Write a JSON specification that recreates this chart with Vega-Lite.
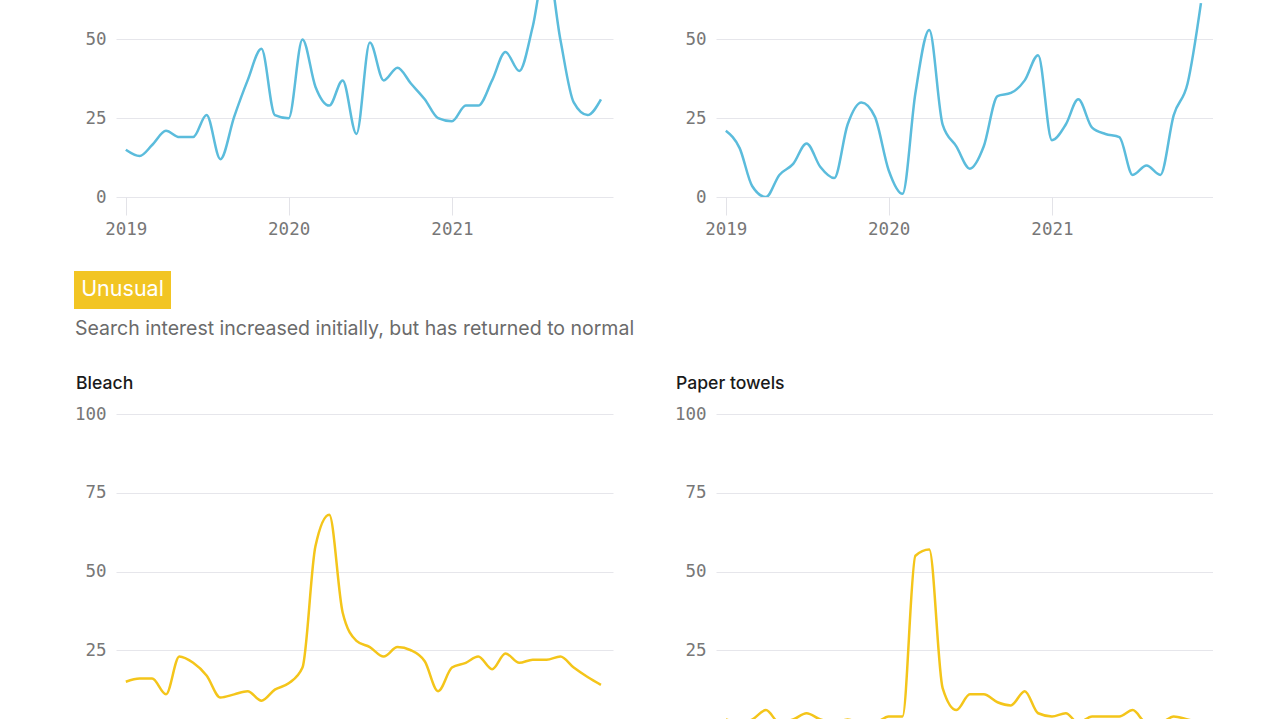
{
  "$schema": "https://vega.github.io/schema/vega-lite/v6.json",
  "background": "white",
  "autosize": {"type": "pad"},
  "padding": {"left": 10, "top": 0, "right": 0, "bottom": 0},
  "datasets": {
    "trends": [
      {"term": "Series A", "date": "2019-01-01", "value": 15},
      {"term": "Series A", "date": "2019-02-01", "value": 13},
      {"term": "Series A", "date": "2019-03-01", "value": 16.5},
      {"term": "Series A", "date": "2019-04-01", "value": 21},
      {"term": "Series A", "date": "2019-05-01", "value": 19},
      {"term": "Series A", "date": "2019-06-01", "value": 19},
      {"term": "Series A", "date": "2019-07-01", "value": 26},
      {"term": "Series A", "date": "2019-08-01", "value": 12},
      {"term": "Series A", "date": "2019-09-01", "value": 25.5},
      {"term": "Series A", "date": "2019-10-01", "value": 37},
      {"term": "Series A", "date": "2019-11-01", "value": 47},
      {"term": "Series A", "date": "2019-12-01", "value": 26},
      {"term": "Series A", "date": "2020-01-01", "value": 25},
      {"term": "Series A", "date": "2020-02-01", "value": 50},
      {"term": "Series A", "date": "2020-03-01", "value": 35},
      {"term": "Series A", "date": "2020-04-01", "value": 29},
      {"term": "Series A", "date": "2020-05-01", "value": 37},
      {"term": "Series A", "date": "2020-06-01", "value": 20},
      {"term": "Series A", "date": "2020-07-01", "value": 49},
      {"term": "Series A", "date": "2020-08-01", "value": 37},
      {"term": "Series A", "date": "2020-09-01", "value": 41},
      {"term": "Series A", "date": "2020-10-01", "value": 36},
      {"term": "Series A", "date": "2020-11-01", "value": 31},
      {"term": "Series A", "date": "2020-12-01", "value": 25},
      {"term": "Series A", "date": "2021-01-01", "value": 24},
      {"term": "Series A", "date": "2021-02-01", "value": 29},
      {"term": "Series A", "date": "2021-03-01", "value": 29},
      {"term": "Series A", "date": "2021-04-01", "value": 37},
      {"term": "Series A", "date": "2021-05-01", "value": 46},
      {"term": "Series A", "date": "2021-06-01", "value": 40},
      {"term": "Series A", "date": "2021-07-01", "value": 54},
      {"term": "Series A", "date": "2021-08-01", "value": 75},
      {"term": "Series A", "date": "2021-09-01", "value": 50},
      {"term": "Series A", "date": "2021-10-01", "value": 30},
      {"term": "Series A", "date": "2021-11-01", "value": 26},
      {"term": "Series A", "date": "2021-12-01", "value": 31},
      {"term": "Series B", "date": "2019-01-01", "value": 21},
      {"term": "Series B", "date": "2019-02-01", "value": 15.5},
      {"term": "Series B", "date": "2019-03-01", "value": 3.5},
      {"term": "Series B", "date": "2019-04-01", "value": 0},
      {"term": "Series B", "date": "2019-05-01", "value": 7},
      {"term": "Series B", "date": "2019-06-01", "value": 10.5},
      {"term": "Series B", "date": "2019-07-01", "value": 17},
      {"term": "Series B", "date": "2019-08-01", "value": 9.5},
      {"term": "Series B", "date": "2019-09-01", "value": 6},
      {"term": "Series B", "date": "2019-10-01", "value": 23},
      {"term": "Series B", "date": "2019-11-01", "value": 30},
      {"term": "Series B", "date": "2019-12-01", "value": 25.5},
      {"term": "Series B", "date": "2020-01-01", "value": 8.5},
      {"term": "Series B", "date": "2020-02-01", "value": 1},
      {"term": "Series B", "date": "2020-03-01", "value": 33},
      {"term": "Series B", "date": "2020-04-01", "value": 53},
      {"term": "Series B", "date": "2020-05-01", "value": 23},
      {"term": "Series B", "date": "2020-06-01", "value": 16},
      {"term": "Series B", "date": "2020-07-01", "value": 9},
      {"term": "Series B", "date": "2020-08-01", "value": 16},
      {"term": "Series B", "date": "2020-09-01", "value": 32},
      {"term": "Series B", "date": "2020-10-01", "value": 33},
      {"term": "Series B", "date": "2020-11-01", "value": 37},
      {"term": "Series B", "date": "2020-12-01", "value": 45},
      {"term": "Series B", "date": "2021-01-01", "value": 18},
      {"term": "Series B", "date": "2021-02-01", "value": 23},
      {"term": "Series B", "date": "2021-03-01", "value": 31},
      {"term": "Series B", "date": "2021-04-01", "value": 22},
      {"term": "Series B", "date": "2021-05-01", "value": 20},
      {"term": "Series B", "date": "2021-06-01", "value": 19},
      {"term": "Series B", "date": "2021-07-01", "value": 7},
      {"term": "Series B", "date": "2021-08-01", "value": 10},
      {"term": "Series B", "date": "2021-09-01", "value": 7},
      {"term": "Series B", "date": "2021-10-01", "value": 26},
      {"term": "Series B", "date": "2021-11-01", "value": 36},
      {"term": "Series B", "date": "2021-12-01", "value": 61.5},
      {"term": "Bleach", "date": "2019-01-01", "value": 15},
      {"term": "Bleach", "date": "2019-02-01", "value": 16},
      {"term": "Bleach", "date": "2019-03-01", "value": 16},
      {"term": "Bleach", "date": "2019-04-01", "value": 11},
      {"term": "Bleach", "date": "2019-05-01", "value": 23},
      {"term": "Bleach", "date": "2019-06-01", "value": 21},
      {"term": "Bleach", "date": "2019-07-01", "value": 17},
      {"term": "Bleach", "date": "2019-08-01", "value": 10},
      {"term": "Bleach", "date": "2019-09-01", "value": 11},
      {"term": "Bleach", "date": "2019-10-01", "value": 12},
      {"term": "Bleach", "date": "2019-11-01", "value": 9},
      {"term": "Bleach", "date": "2019-12-01", "value": 12.5},
      {"term": "Bleach", "date": "2020-01-01", "value": 14.5},
      {"term": "Bleach", "date": "2020-02-01", "value": 19.5},
      {"term": "Bleach", "date": "2020-03-01", "value": 58},
      {"term": "Bleach", "date": "2020-04-01", "value": 68},
      {"term": "Bleach", "date": "2020-05-01", "value": 37},
      {"term": "Bleach", "date": "2020-06-01", "value": 28},
      {"term": "Bleach", "date": "2020-07-01", "value": 26},
      {"term": "Bleach", "date": "2020-08-01", "value": 23},
      {"term": "Bleach", "date": "2020-09-01", "value": 26},
      {"term": "Bleach", "date": "2020-10-01", "value": 25},
      {"term": "Bleach", "date": "2020-11-01", "value": 21.5},
      {"term": "Bleach", "date": "2020-12-01", "value": 12},
      {"term": "Bleach", "date": "2021-01-01", "value": 19.5},
      {"term": "Bleach", "date": "2021-02-01", "value": 21},
      {"term": "Bleach", "date": "2021-03-01", "value": 23},
      {"term": "Bleach", "date": "2021-04-01", "value": 19},
      {"term": "Bleach", "date": "2021-05-01", "value": 24},
      {"term": "Bleach", "date": "2021-06-01", "value": 21},
      {"term": "Bleach", "date": "2021-07-01", "value": 22},
      {"term": "Bleach", "date": "2021-08-01", "value": 22},
      {"term": "Bleach", "date": "2021-09-01", "value": 23},
      {"term": "Bleach", "date": "2021-10-01", "value": 19.5},
      {"term": "Bleach", "date": "2021-11-01", "value": 16.5},
      {"term": "Bleach", "date": "2021-12-01", "value": 14},
      {"term": "Paper towels", "date": "2019-01-01", "value": 3},
      {"term": "Paper towels", "date": "2019-02-01", "value": 2},
      {"term": "Paper towels", "date": "2019-03-01", "value": 3},
      {"term": "Paper towels", "date": "2019-04-01", "value": 6},
      {"term": "Paper towels", "date": "2019-05-01", "value": 2},
      {"term": "Paper towels", "date": "2019-06-01", "value": 3},
      {"term": "Paper towels", "date": "2019-07-01", "value": 5},
      {"term": "Paper towels", "date": "2019-08-01", "value": 3},
      {"term": "Paper towels", "date": "2019-09-01", "value": 2},
      {"term": "Paper towels", "date": "2019-10-01", "value": 3},
      {"term": "Paper towels", "date": "2019-11-01", "value": 2},
      {"term": "Paper towels", "date": "2019-12-01", "value": 2},
      {"term": "Paper towels", "date": "2020-01-01", "value": 4},
      {"term": "Paper towels", "date": "2020-02-01", "value": 4},
      {"term": "Paper towels", "date": "2020-03-01", "value": 55},
      {"term": "Paper towels", "date": "2020-04-01", "value": 57},
      {"term": "Paper towels", "date": "2020-05-01", "value": 13},
      {"term": "Paper towels", "date": "2020-06-01", "value": 6},
      {"term": "Paper towels", "date": "2020-07-01", "value": 11},
      {"term": "Paper towels", "date": "2020-08-01", "value": 11},
      {"term": "Paper towels", "date": "2020-09-01", "value": 8.5},
      {"term": "Paper towels", "date": "2020-10-01", "value": 7.5},
      {"term": "Paper towels", "date": "2020-11-01", "value": 12},
      {"term": "Paper towels", "date": "2020-12-01", "value": 5},
      {"term": "Paper towels", "date": "2021-01-01", "value": 4},
      {"term": "Paper towels", "date": "2021-02-01", "value": 5},
      {"term": "Paper towels", "date": "2021-03-01", "value": 2},
      {"term": "Paper towels", "date": "2021-04-01", "value": 4},
      {"term": "Paper towels", "date": "2021-05-01", "value": 4},
      {"term": "Paper towels", "date": "2021-06-01", "value": 4},
      {"term": "Paper towels", "date": "2021-07-01", "value": 6},
      {"term": "Paper towels", "date": "2021-08-01", "value": 2},
      {"term": "Paper towels", "date": "2021-09-01", "value": 2},
      {"term": "Paper towels", "date": "2021-10-01", "value": 4},
      {"term": "Paper towels", "date": "2021-11-01", "value": 3},
      {"term": "Paper towels", "date": "2021-12-01", "value": 2}
    ]
  },
  "config": {
    "view": {"stroke": null},
    "font": "Inter",
    "axisY": {
      "domain": false, "ticks": false, "labelPadding": 10,
      "labelFont": "DejaVu Sans Mono", "labelFontSize": 17.5, "labelColor": "#777777",
      "gridColor": "#e6e6eb", "gridWidth": 1, "title": null, "minExtent": 42
    },
    "axisX": {
      "domain": false, "grid": false, "ticks": true, "tickSize": 18, "tickColor": "#e3e3e8",
      "labelFont": "DejaVu Sans Mono", "labelFontSize": 17.5, "labelColor": "#777777",
      "labelPadding": 5, "title": null
    },
    "title": {
      "font": "Inter", "fontSize": 17.6, "fontWeight": 500, "color": "#1a1a1a",
      "anchor": "start", "frame": "bounds", "offset": 12, "dx": 2
    }
  },
  "spacing": 33,
  "vconcat": [
    {
      "spacing": 63,
      "hconcat": [
        {"width": 1, "height": 1, "data": {"values": []}, "mark": "point"},
        {
          "spacing": 61,
          "hconcat": [
            {
              "width": 497, "height": 197,
              "data": {"name": "trends"},
              "transform": [{"filter": "datum.term === 'Series A'"}],
              "mark": {"type": "line", "interpolate": "monotone", "strokeWidth": 2.5, "color": "#5bbcdc", "clip": true},
              "encoding": {
                "x": {"field": "date", "type": "temporal",
                  "scale": {"type": "utc", "nice": false, "domain": [{"year": 2018, "month": 12, "date": 10, "utc": true}, {"year": 2021, "month": 12, "date": 28, "utc": true}]},
                  "axis": {"format": "%Y", "values": [{"year": 2019, "utc": true}, {"year": 2020, "utc": true}, {"year": 2021, "utc": true}]}},
                "y": {"field": "value", "type": "quantitative", "scale": {"domain": [0, 62.5], "nice": false}, "axis": {"values": [0, 25, 50]}}
              }
            },
            {
              "width": 497, "height": 197,
              "data": {"name": "trends"},
              "transform": [{"filter": "datum.term === 'Series B'"}],
              "mark": {"type": "line", "interpolate": "monotone", "strokeWidth": 2.5, "color": "#5bbcdc", "clip": true},
              "encoding": {
                "x": {"field": "date", "type": "temporal",
                  "scale": {"type": "utc", "nice": false, "domain": [{"year": 2018, "month": 12, "date": 10, "utc": true}, {"year": 2021, "month": 12, "date": 28, "utc": true}]},
                  "axis": {"format": "%Y", "values": [{"year": 2019, "utc": true}, {"year": 2020, "utc": true}, {"year": 2021, "utc": true}]}},
                "y": {"field": "value", "type": "quantitative", "scale": {"domain": [0, 62.5], "nice": false}, "axis": {"values": [0, 25, 50]}}
              }
            }
          ]
        }
      ]
    },
    {
      "spacing": 36,
      "vconcat": [
        {
          "spacing": 63,
          "hconcat": [
            {"width": 1, "height": 1, "data": {"values": []}, "mark": "point"},
            {
              "width": 97, "height": 38,
              "view": {"fill": "#f2c523", "stroke": null},
              "data": {"values": [{"label": "Unusual"}]},
              "mark": {"type": "text", "font": "Inter", "fontSize": 21.5, "color": "#ffffff", "align": "center", "baseline": "middle"},
              "encoding": {"text": {"field": "label", "type": "nominal"}},
              "title": {"text": "Search interest increased initially, but has returned to normal", "orient": "bottom", "anchor": "start", "frame": "bounds", "offset": 11, "dx": 1, "fontSize": 19.5, "fontWeight": "normal", "color": "#6b6b6b"}
            }
          ]
        },
        {
          "spacing": 63,
          "hconcat": [
            {"width": 1, "height": 1, "data": {"values": []}, "mark": "point"},
            {
              "spacing": 61,
              "hconcat": [
                {
                  "width": 497, "height": 315,
                  "title": "Bleach",
                  "data": {"name": "trends"},
                  "transform": [{"filter": "datum.term === 'Bleach'"}],
                  "mark": {"type": "line", "interpolate": "monotone", "strokeWidth": 2.5, "color": "#f4c51a"},
                  "encoding": {
                    "x": {"field": "date", "type": "temporal",
                      "scale": {"type": "utc", "nice": false, "domain": [{"year": 2018, "month": 12, "date": 10, "utc": true}, {"year": 2021, "month": 12, "date": 28, "utc": true}]},
                      "axis": null},
                    "y": {"field": "value", "type": "quantitative", "scale": {"domain": [0, 100], "nice": false}, "axis": {"values": [25, 50, 75, 100]}}
                  }
                },
                {
                  "width": 497, "height": 315,
                  "title": "Paper towels",
                  "data": {"name": "trends"},
                  "transform": [{"filter": "datum.term === 'Paper towels'"}],
                  "mark": {"type": "line", "interpolate": "monotone", "strokeWidth": 2.5, "color": "#f4c51a"},
                  "encoding": {
                    "x": {"field": "date", "type": "temporal",
                      "scale": {"type": "utc", "nice": false, "domain": [{"year": 2018, "month": 12, "date": 10, "utc": true}, {"year": 2021, "month": 12, "date": 28, "utc": true}]},
                      "axis": null},
                    "y": {"field": "value", "type": "quantitative", "scale": {"domain": [0, 100], "nice": false}, "axis": {"values": [25, 50, 75, 100]}}
                  }
                }
              ]
            }
          ]
        }
      ]
    }
  ]
}
